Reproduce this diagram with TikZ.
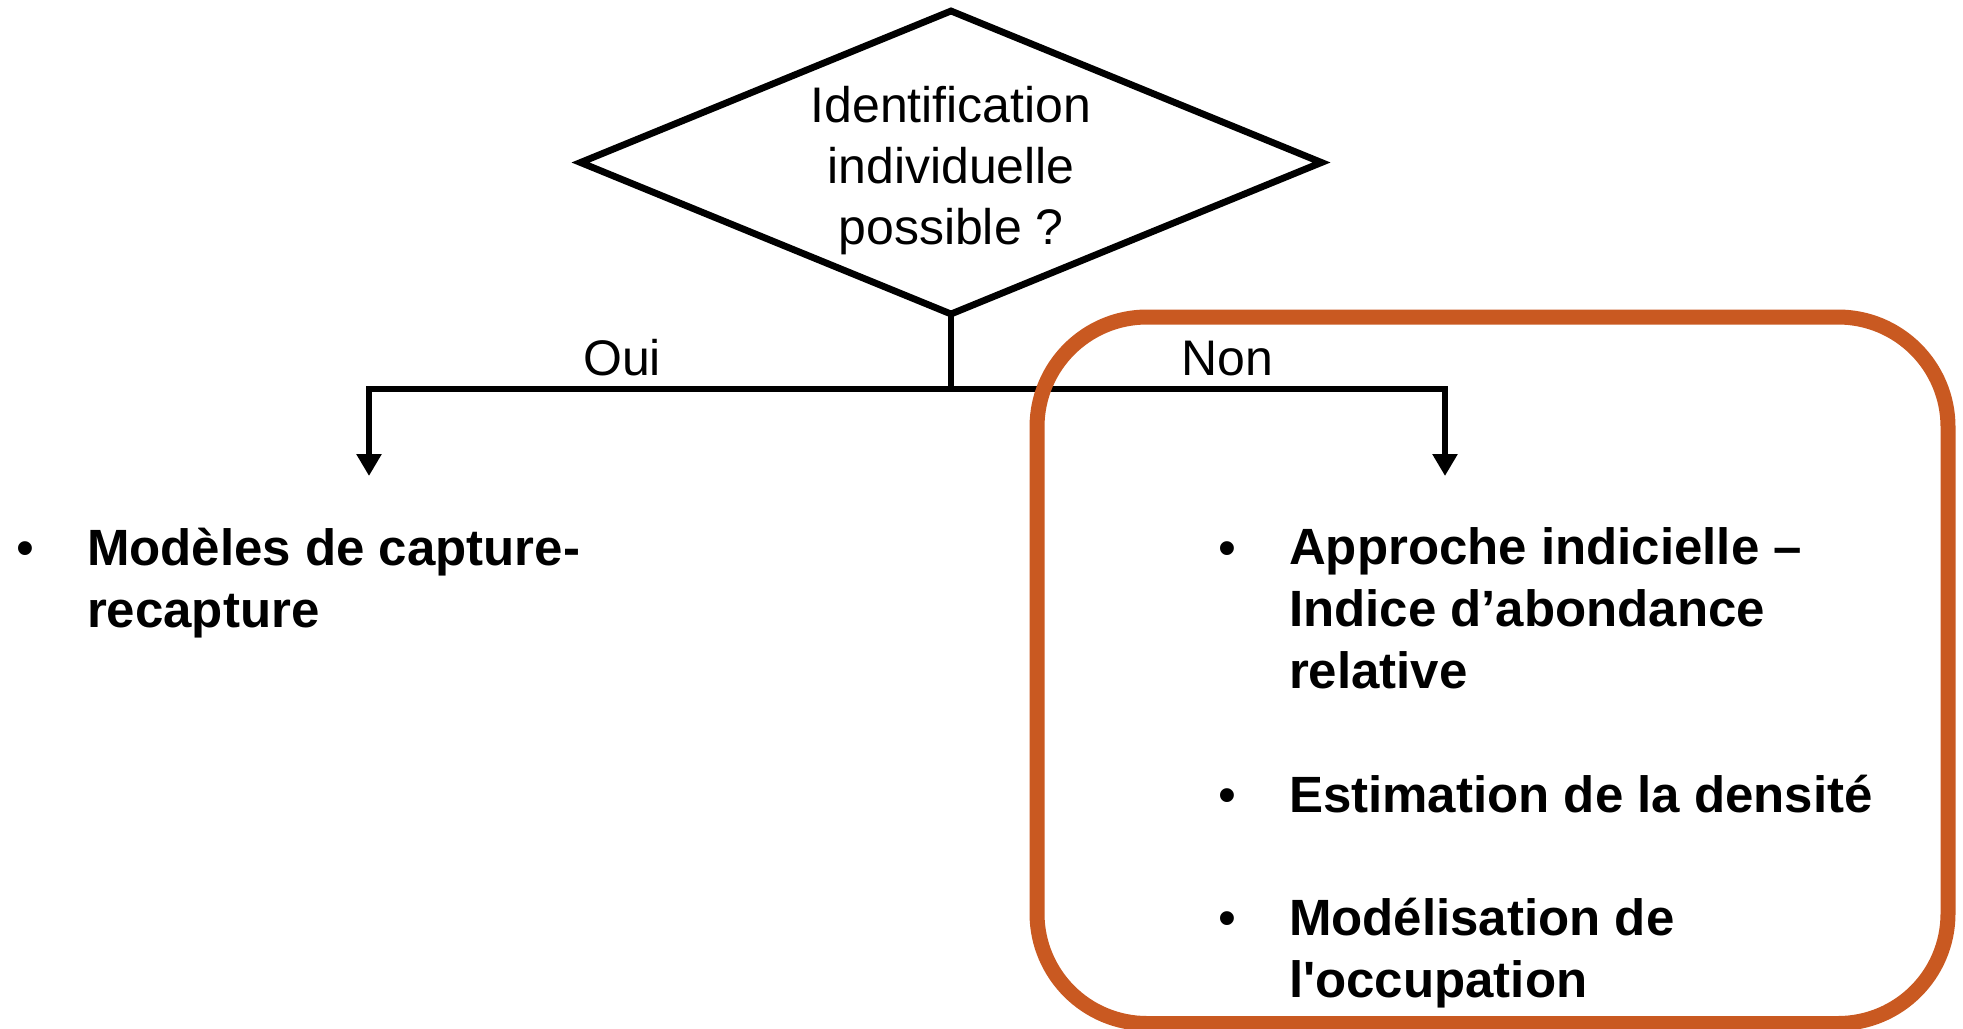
\documentclass[tikz,border=0pt]{standalone}
\usepackage{fontspec}
\setmainfont{Liberation Sans}
\usetikzlibrary{shapes.geometric,arrows.meta}
\definecolor{frameorange}{RGB}{201,89,33}
\begin{document}
\begin{tikzpicture}[x=0.5pt,y=-0.5pt,
  every node/.style={inner sep=0pt, outer sep=0pt},
  decision/.style={diamond, draw, line width=3.4pt, line join=miter,
    minimum width=370.5pt, minimum height=151.5pt, aspect=2.45},
  plain/.style={font=\fontsize{25pt}{30.5pt}\selectfont},
  item/.style={font=\fontsize{25.5pt}{30.8pt}\selectfont\bfseries,
    align=left, anchor=base west},
  bullet/.style={font=\fontsize{25.5pt}{30.8pt}\selectfont, anchor=base},
  wire/.style={line width=3.4pt},
  link/.style={line width=3.4pt, -{Triangle[width=12pt,length=11pt]}},
  frame/.style={draw=frameorange, line width=7.5pt, rounded corners=55pt}]
\useasboundingbox (0,0) rectangle (1963,1028);

% decision (multi-line nodes are anchored at the baseline of their last line)
\node[decision] (q) at (951,162.5) {};
\node[plain, align=center, anchor=base] (qtext) at (951,244)
  {Identification\\individuelle\\possible ?};

% branches
\coordinate (j) at (951,389);
\coordinate (ouiEnd) at (369,476);
\coordinate (nonEnd) at (1445,476);
\draw[wire] (q.south) -- (j);
\draw[link] (j) -| (ouiEnd);
\draw[link] (j) -| (nonEnd);
\node[plain, anchor=base] (oui) at (622,375) {Oui};
\node[plain, anchor=base] (non) at (1227,375) {Non};

% left outcome
\node[bullet] (b1) at (25,565) {•};
\node[item] (capture) at (87,627) {Modèles de capture-\\recapture};

% right outcomes
\node[bullet] (b2) at (1227,565) {•};
\node[item] (indice) at (1289,688) {Approche indicielle –\\Indice d’abondance\\relative};
\node[bullet] (b3) at (1227,812) {•};
\node[item] (densite) at (1289,812) {Estimation de la densité};
\node[bullet] (b4) at (1227,935) {•};
\node[item] (occup) at (1289,997) {Modélisation de\\l\textquotesingle occupation};

% highlighted group, its lower edge running off the page
\draw[frame] (1037,317) rectangle (1948,1023.5);
\end{tikzpicture}
\end{document}
